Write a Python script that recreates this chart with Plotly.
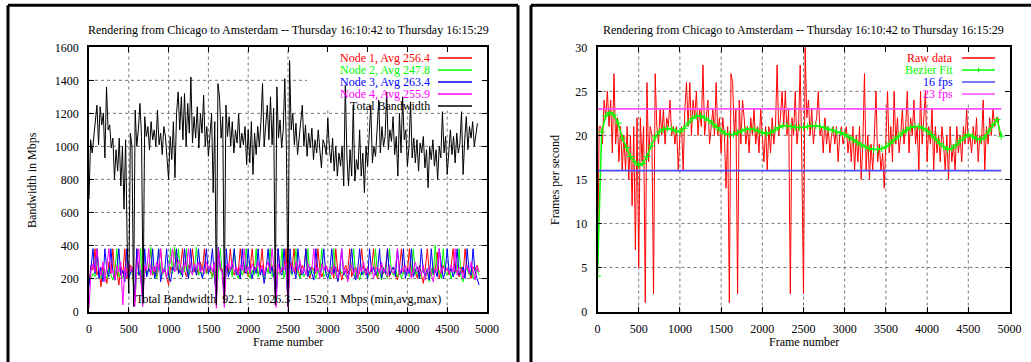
import plotly.graph_objects as go

W, H = 1031, 362
FONT = "Liberation Serif, Times New Roman, serif"

# ---------------- data ----------------
title_text = "Rendering from Chicago to Amsterdam -- Thursday 16:10:42 to Thursday 16:15:29"
node_labels = ["Node 1, Avg 256.4", "Node 2, Avg 247.8", "Node 3, Avg 263.4", "Node 4, Avg 255.9"]
total_label = "Total Bandwidth"
fps_labels = ["Raw data", "Bezier Fit", "16 fps", "23 fps"]
summary_text = "Total Bandwidth  92.1 -- 1026.3 -- 1520.1 Mbps (min,avg,max)"

node_step = 25
node1 = [170, 280, 250, 380, 220, 260, 150, 280, 240, 170, 300, 230, 380, 210, 250, 160, 270, 230, 380, 200,
         250, 280, 230, 60, 380, 240, 200, 90, 270, 230, 250, 380, 220, 270, 210, 260, 380, 230, 250, 200,
         160, 270, 250, 380, 290, 230, 270, 380, 250, 210, 280, 260, 380, 240, 270, 220, 300, 250, 380, 230,
         270, 240, 210, 280, 80, 380, 250, 260, 100, 280, 230, 380, 250, 220, 270, 240, 380, 260, 230, 280,
         210, 260, 380, 240, 270, 230, 250, 380, 220, 270, 240, 260, 280, 230, 70, 380, 250, 240, 270, 380,
         80, 300, 250, 380, 230, 260, 210, 280, 250, 380, 240, 200, 270, 250, 230, 380, 260, 210, 250, 280,
         250, 230, 270, 200, 380, 240, 260, 190, 250, 280, 230, 380, 210, 250, 270, 200, 240, 380, 260, 230,
         270, 220, 260, 380, 240, 200, 250, 280, 230, 260, 380, 210, 250, 270, 240, 190, 260, 380, 230, 250,
         240, 380, 210, 260, 250, 200, 280, 230, 170, 260, 380, 240, 220, 270, 250, 360, 200, 250, 280, 240,
         260, 220, 280, 380, 240, 250, 210, 270, 230, 380, 260, 240, 200, 270, 250, 280, 240]
node2 = [190, 200, 230, 210, 380, 220, 200, 250, 230, 200, 260, 220, 190, 240, 380, 210, 230, 200, 250, 220,
         230, 260, 210, 50, 240, 220, 380, 80, 250, 220, 260, 390, 230, 240, 200, 380, 250, 220, 270, 210,
         200, 380, 230, 390, 250, 380, 220, 270, 240, 380, 210, 250, 230, 260, 390, 220, 240, 210, 280, 230,
         240, 260, 200, 250, 90, 230, 380, 210, 100, 250, 230, 270, 210, 380, 240, 200, 260, 220, 250, 380,
         230, 200, 250, 220, 380, 210, 260, 240, 200, 270, 230, 380, 210, 250, 80, 240, 220, 380, 200, 260,
         90, 250, 220, 270, 380, 230, 200, 250, 210, 240, 380, 220, 260, 230, 200, 250, 240, 380, 210, 230,
         250, 200, 240, 380, 220, 190, 260, 230, 250, 210, 200, 240, 270, 380, 210, 230, 190, 250, 220, 260,
         200, 240, 230, 260, 380, 210, 250, 190, 270, 230, 200, 380, 240, 220, 260, 210, 250, 200, 240, 230,
         260, 210, 240, 380, 220, 250, 200, 230, 270, 210, 240, 180, 260, 220, 400, 230, 250, 200, 380, 240,
         220, 260, 200, 240, 230, 250, 380, 210, 180, 240, 260, 220, 250, 200, 230, 260, 220]
node3 = [150, 270, 380, 230, 380, 200, 270, 180, 380, 250, 210, 380, 240, 190, 260, 380, 220, 250, 180, 380,
         200, 240, 260, 70, 380, 220, 250, 100, 380, 210, 260, 230, 380, 200, 250, 380, 180, 260, 240, 380,
         220, 180, 270, 240, 380, 230, 250, 210, 380, 260, 200, 380, 240, 270, 220, 380, 250, 200, 270, 380,
         230, 260, 380, 220, 70, 390, 260, 240, 90, 380, 210, 250, 270, 380, 220, 240, 200, 380, 250, 230,
         380, 240, 200, 270, 230, 380, 220, 260, 170, 250, 380, 230, 270, 200, 60, 380, 240, 220, 380, 250,
         60, 380, 230, 250, 200, 380, 260, 220, 240, 380, 210, 270, 230, 190, 380, 250, 220, 260, 380, 230,
         200, 250, 380, 230, 270, 180, 240, 380, 220, 250, 200, 260, 380, 230, 190, 250, 380, 220, 240, 260,
         200, 380, 240, 270, 220, 250, 380, 200, 260, 230, 380, 220, 250, 270, 210, 380, 240, 230, 380, 200,
         260, 230, 380, 210, 250, 270, 200, 380, 240, 220, 260, 190, 380, 230, 250, 210, 380, 270, 200, 240,
         380, 230, 260, 210, 250, 380, 220, 240, 270, 200, 380, 250, 220, 380, 240, 200, 160]
node4 = [20, 250, 290, 240, 380, 260, 220, 300, 180, 270, 380, 230, 250, 190, 280, 240, 300, 40, 270, 210,
         290, 240, 270, 30, 260, 380, 230, 30, 280, 250, 380, 220, 270, 240, 300, 250, 380, 230, 260, 200,
         270, 300, 380, 240, 260, 310, 280, 230, 300, 270, 380, 250, 220, 290, 260, 300, 240, 270, 230, 300,
         260, 280, 240, 300, 20, 380, 270, 230, 25, 260, 290, 250, 310, 240, 270, 220, 280, 250, 380, 240,
         270, 230, 290, 250, 260, 300, 240, 280, 220, 270, 300, 240, 380, 260, 25, 290, 230, 270, 250, 300,
         25, 260, 280, 240, 300, 250, 310, 230, 270, 220, 290, 250, 260, 380, 240, 270, 200, 290, 250, 280,
         240, 260, 220, 280, 250, 200, 270, 380, 230, 260, 180, 250, 280, 230, 260, 200, 270, 240, 300, 220,
         260, 230, 280, 200, 250, 270, 230, 300, 240, 260, 210, 280, 250, 230, 270, 380, 220, 260, 240, 280,
         230, 270, 200, 250, 300, 240, 260, 220, 280, 190, 250, 270, 230, 180, 260, 240, 380, 230, 270, 250,
         260, 230, 280, 240, 380, 220, 270, 250, 200, 260, 280, 230, 300, 250, 190, 270, 240]

total_step = 20
total_bw = [680, 1040, 960, 1050, 1120, 1250, 1010, 1240, 1130, 1200, 930, 1360, 1100, 1130, 990, 1050, 800,
            980, 850, 1050, 760, 1000, 620, 1040, 410, 110,
            1080, 1000, 30, 1220, 1000, 1100, 1260, 1060, 50, 1180, 1060, 1120, 980, 1150, 1040, 1100, 1000,
            1220, 1010, 1080, 950, 1120, 1060, 900, 800,
            1060, 920, 1150, 810, 1200, 1330, 1100, 1300, 1040, 1320, 1000, 1260, 1080, 1420, 1020, 1180, 1050,
            1240, 990, 1200, 1080, 1310, 1000, 1120, 940,
            1100, 1200, 720, 1150, 40, 1380, 1300, 1050, 1180, 50, 1250, 1060, 1180, 1000, 1150, 960, 1100,
            1020, 1200, 990, 1080, 1010, 1120, 890, 1100,
            900, 1150, 830, 1080, 950, 1120, 1000, 1150, 1380, 1000, 1120, 1250, 1040, 1300, 1010, 1230, 40,
            1360, 1050, 1160, 990, 1100, 1410, 980, 30,
            1520, 1100, 1200, 1010, 1140, 950, 1060, 1120, 1250, 1000, 1130, 940, 1080, 990, 1110, 920, 1040,
            960, 1100, 980, 870, 1040, 1010, 950, 1170,
            990, 900, 1050, 850, 1000, 820, 960, 880, 1000, 760, 1370, 940, 760, 980, 820, 1250, 790, 920, 860,
            1100, 820, 960, 720, 1000, 880,
            1060, 1250, 900, 1000, 940, 1100, 1280, 960, 1120, 1000, 1060, 1330, 980, 1100, 1030, 1180, 950,
            1060, 820, 1200, 960, 1300, 1040, 1100, 880,
            1000, 1270, 930, 1050, 900, 1040, 850, 1020, 960, 1060, 870, 980, 750, 1000, 920, 1040, 880, 980,
            800, 1000, 930, 1210, 960, 1060, 830,
            1000, 1100, 950, 1060, 900, 1080, 960, 1020, 1210, 830, 1040, 1180, 980, 1120, 1050, 1150, 1000,
            1080, 1140]

fps_step = 20
fps_raw = [4, 21, 21, 19, 24, 22, 25, 21, 24, 18, 27, 19, 22, 17, 21, 16, 20, 16, 21, 15, 20, 12, 21, 7, 22, 5,
           22, 17, 21, 1, 26, 17, 21, 20, 2, 27, 21, 19, 23, 20, 23, 19, 22, 21, 24, 20, 21, 19, 21, 16, 20,
           21, 16, 23, 26, 21, 26, 20, 24, 22, 25, 20, 23, 21, 28, 20, 22, 24, 19, 21, 23, 20, 26, 20, 22, 18,
           22, 20, 14, 21, 1, 27, 26, 20, 23, 2, 24, 19, 24, 22, 19, 21, 18, 22, 20, 23, 19, 21, 18, 23, 20,
           17, 21, 16, 21, 18, 22, 19, 21, 28, 20, 22, 25, 21, 25, 20, 23, 2, 22, 20, 25, 19, 21, 28, 17, 2,
           30, 22, 24, 20, 23, 19, 21, 22, 25, 20, 21, 18, 22, 19, 21, 18, 20, 21, 19, 21, 17, 20, 21, 19, 20,
           21, 18, 20, 17, 21, 16, 20, 17, 21, 15, 19, 27, 16, 20, 15, 19, 16, 20, 25, 17, 19, 16, 18, 14, 20,
           25, 18, 21, 17, 25, 19, 22, 18, 20, 23, 19, 21, 25, 18, 22, 20, 24, 19, 21, 16, 25, 19, 22, 25, 17,
           21, 19, 23, 16, 21, 18, 20, 17, 21, 19, 16, 20, 15, 21, 17, 19, 16, 21, 18, 20, 17, 21, 19, 23, 19,
           20, 18, 21, 19, 22, 17, 20, 19, 24, 16, 21, 19, 22, 20, 23, 21, 22, 22, 20]

bezier_step = 50
bezier_fit = [4.0, 20.4, 22.2, 22.6, 22.3, 21.4, 19.7, 18.6, 17.6, 17.0, 16.6, 16.8, 17.6, 18.8, 19.8, 20.4,
              20.7, 20.8, 20.7, 20.5,
              20.4, 20.8, 21.4, 21.9, 22.2, 22.2, 22.0, 21.7, 21.3, 20.9, 20.5, 20.2, 20.1, 20.1, 20.3, 20.5,
              20.7, 20.7, 20.7, 20.5,
              20.3, 20.2, 20.3, 20.6, 20.9, 21.1, 21.1, 21.0, 20.9, 20.9, 20.9, 21.0, 21.1, 21.1, 21.0, 20.9,
              20.7, 20.6, 20.4, 20.3,
              20.1, 19.8, 19.5, 19.2, 18.9, 18.7, 18.5, 18.4, 18.4, 18.5, 18.7, 19.1, 19.5, 19.9, 20.3, 20.6,
              20.9, 21.0, 21.0, 20.8,
              20.5, 20.1, 19.6, 19.1, 18.7, 18.4, 18.5, 18.9, 19.4, 19.8, 20.1, 19.9, 19.6, 19.5, 19.8, 20.5,
              21.2, 21.8, 19.9]

fps_low = 16
fps_high = 23
ref_line_frames = [0, 4900]

x_ticks = [0, 500, 1000, 1500, 2000, 2500, 3000, 3500, 4000, 4500, 5000]
bw_ticks = [0, 200, 400, 600, 800, 1000, 1200, 1400, 1600]
fps_ticks = [0, 5, 10, 15, 20, 25, 30]

# ---------------- styling ----------------
RED, GREEN, BLUE, MAG, BLACK = "#ff0000", "#00ff00", "#0000ff", "#ff00ff", "#000000"
LBLUE, LMAG = "#4d4dff", "#ff4dff"
GRID = "#777777"
node_colors = [RED, GREEN, BLUE, MAG]


def px(x):
    return x / W


def py(y):
    return 1 - y / H


L_X0, L_X1 = 89, 487
R_X0, R_X1 = 597.5, 1009.5
Y_TOP, Y_BOT = 47.3, 311.5

fig = go.Figure()

for vals, col, lab in zip([node1, node2, node3, node4], node_colors, node_labels):
    fig.add_trace(go.Scatter(x=[i * node_step for i in range(len(vals))], y=vals, mode="lines",
                             line=dict(color=col, width=1), name=lab, xaxis="x", yaxis="y"))
fig.add_trace(go.Scatter(x=[i * total_step for i in range(len(total_bw))], y=total_bw, mode="lines",
                         line=dict(color=BLACK, width=1), name=total_label, xaxis="x", yaxis="y"))

fig.add_trace(go.Scatter(x=[i * fps_step for i in range(len(fps_raw))], y=fps_raw, mode="lines",
                         line=dict(color=RED, width=1), name=fps_labels[0], xaxis="x2", yaxis="y2"))
fig.add_trace(go.Scatter(x=[i * bezier_step for i in range(len(bezier_fit))], y=bezier_fit,
                         mode="lines+markers", line=dict(color=GREEN, width=1.5),
                         marker=dict(symbol="cross-thin", size=5, line=dict(color=GREEN, width=1)),
                         name=fps_labels[1], xaxis="x2", yaxis="y2"))
fig.add_trace(go.Scatter(x=ref_line_frames, y=[fps_low] * 2, mode="lines",
                         line=dict(color=LBLUE, width=1.8), name=fps_labels[2], xaxis="x2", yaxis="y2"))
fig.add_trace(go.Scatter(x=ref_line_frames, y=[fps_high] * 2, mode="lines",
                         line=dict(color=LMAG, width=1.8), name=fps_labels[3], xaxis="x2", yaxis="y2"))

axis_common = dict(showline=True, linecolor="black", linewidth=1.5, mirror="ticks", ticks="inside",
                   ticklen=5, tickcolor="black", showgrid=False, zeroline=False, automargin=False,
                   tickfont=dict(family=FONT, size=12, color="black"))

fig.update_layout(
    template="none",
    width=W, height=H, autosize=False, showlegend=False,
    margin=dict(l=0, r=0, t=0, b=0, pad=0, autoexpand=False),
    paper_bgcolor="white", plot_bgcolor="white",
    font=dict(family=FONT, size=12, color="black"),
    xaxis=dict(domain=[px(L_X0), px(L_X1)], range=[0, 5000], tickvals=x_ticks, anchor="y",
               ticklabelstandoff=5, **axis_common),
    yaxis=dict(domain=[py(Y_BOT), py(Y_TOP)], range=[0, 1600], tickvals=bw_ticks, anchor="x",
               ticklabelstandoff=6, **axis_common),
    xaxis2=dict(domain=[px(R_X0), px(R_X1)], range=[0, 5000], tickvals=x_ticks, anchor="y2",
                ticklabelstandoff=5, **axis_common),
    yaxis2=dict(domain=[py(Y_BOT), py(Y_TOP)], range=[0, 30], tickvals=fps_ticks, anchor="x2",
                ticklabelstandoff=6, **axis_common),
)

shapes = []
grid_line = dict(color=GRID, width=1, dash="dot")
# dotted grid (drawn below the data)
for xa, ya, yt in [("x", "y", bw_ticks), ("x2", "y2", fps_ticks)]:
    for t in x_ticks[1:-1]:
        shapes.append(dict(type="line", xref=xa, yref=ya + " domain", x0=t, x1=t, y0=0, y1=1,
                           line=grid_line, layer="below"))
    for t in yt[1:-1]:
        shapes.append(dict(type="line", xref=xa + " domain", yref=ya, x0=0, x1=1, y0=t, y1=t,
                           line=grid_line, layer="below"))
# key (legend) blank areas that hide the grid
shapes.append(dict(type="rect", xref="x domain", yref="y domain", x0=(307 - L_X0) / (L_X1 - L_X0), x1=1,
                   y0=(Y_BOT - 110) / (Y_BOT - Y_TOP), y1=1, fillcolor="white", line=dict(width=0),
                   layer="below"))
shapes.append(dict(type="rect", xref="x2 domain", yref="y2 domain", x0=(881 - R_X0) / (R_X1 - R_X0), x1=1,
                   y0=(Y_BOT - 102) / (Y_BOT - Y_TOP), y1=1, fillcolor="white", line=dict(width=0),
                   layer="below"))
# outer frames of the two pictures (kept inside the page)
frame_line = dict(color="black", width=3)
for (x0, y0, x1, y1) in [(8, 5.3, 8, H), (8, 5.3, 518, 5.3), (518, 5.3, 518, H),
                         (531, 5.3, 531, H), (531, 5.3, W, 5.3)]:
    shapes.append(dict(type="line", xref="paper", yref="paper", x0=px(x0), x1=px(x1), y0=py(y0), y1=py(y1),
                       line=frame_line))

annotations = []


def text(x, y, s, color="black", xanchor="center", angle=0):
    annotations.append(dict(x=px(x), y=py(y), xref="paper", yref="paper", text=s, showarrow=False,
                            xanchor=xanchor, yanchor="middle", textangle=angle, borderpad=0,
                            font=dict(family=FONT, size=12, color=color)))


# titles and axis titles
text((L_X0 + L_X1) / 2, 30, title_text)
text((R_X0 + R_X1) / 2, 30, title_text)
text((L_X0 + L_X1) / 2, 342, "Frame number")
text((R_X0 + R_X1) / 2, 342, "Frame number")
text(32, 180, "Bandwidth in Mbps", angle=-90)
text(555, 180, "Frames per second", angle=-90)
text(288, 299, summary_text)

# left key
left_rows = [58, 70, 82, 94, 106]
for lab, col, yy in zip(node_labels + [total_label], node_colors + [BLACK], left_rows):
    text(431, yy, lab, color=col, xanchor="right")
    shapes.append(dict(type="line", xref="paper", yref="paper", x0=px(438), x1=px(472), y0=py(yy), y1=py(yy),
                       line=dict(color=col, width=1.5)))
# right key
right_rows = [58, 70, 82, 94]
for lab, col, yy in zip(fps_labels, [RED, GREEN, BLUE, MAG], right_rows):
    text(954, yy, lab, color=col, xanchor="right")
for col, yy in zip([RED, GREEN, LBLUE, LMAG], right_rows):
    shapes.append(dict(type="line", xref="paper", yref="paper", x0=px(962), x1=px(995), y0=py(yy), y1=py(yy),
                       line=dict(color=col, width=1.5)))
# plus sign on the Bezier key sample
shapes.append(dict(type="line", xref="paper", yref="paper", x0=px(978.5), x1=px(978.5), y0=py(67.5),
                   y1=py(72.5), line=dict(color=GREEN, width=1)))

fig.update_layout(shapes=shapes, annotations=annotations)

page_fix = (
    "document.documentElement.style.margin='0';document.documentElement.style.padding='0';"
    "document.documentElement.style.overflow='hidden';"
    "document.body.style.margin='0';document.body.style.padding='0';document.body.style.overflow='hidden';"
    "var gd=document.querySelector('.plotly-graph-div');"
    "gd.style.position='fixed';gd.style.left='0px';gd.style.top='0px';"
)
fig.write_html("out.html", config={"displayModeBar": False}, post_script=page_fix)
